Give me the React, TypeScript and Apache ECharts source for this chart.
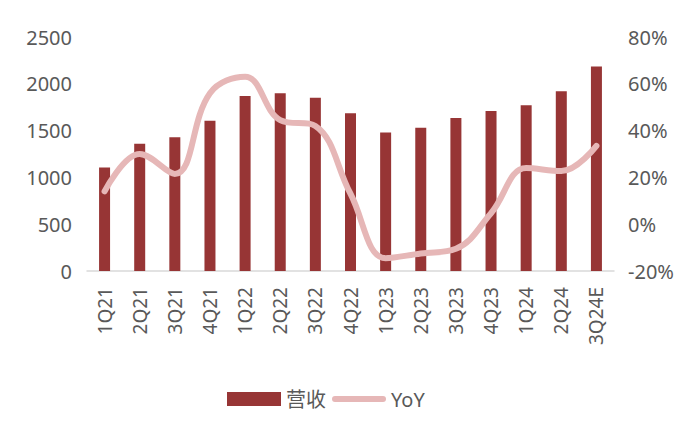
import { useEffect, useRef } from "react";
import * as echarts from "echarts";

const categories = [
  "1Q21", "2Q21", "3Q21", "4Q21",
  "1Q22", "2Q22", "3Q22", "4Q22",
  "1Q23", "2Q23", "3Q23", "4Q23",
  "1Q24", "2Q24", "3Q24E",
];

// 营收
const revenue = [
  1105, 1360, 1430, 1605,
  1870, 1900, 1850, 1685,
  1480, 1530, 1635, 1710,
  1770, 1920, 2185,
];

// YoY (%)
const yoy = [
  14, 30, 21.5, 56,
  63, 44.5, 42, 13,
  -14.5, -12.5, -10.5, 4.7,
  24, 22.7, 33.5,
];

const leftTicks = { min: 0, max: 2500, interval: 500 };
const rightTicks = { min: -20, max: 80, interval: 20 };

const FONT = '"Noto Sans", "Noto Sans CJK SC", sans-serif';
const LABEL_COLOR = "#595959";
const BAR_COLOR = "#973535";
const LINE_COLOR = "#E6B7B7";

// 범례용 둥근 선 아이콘
const LINE_ICON = "path://M3,0 H51 A3,3 0 0 1 51,6 H3 A3,3 0 0 1 3,0 Z";

const App = () => {
  const chartRef = useRef<HTMLDivElement>(null);

  useEffect(() => {
    if (!chartRef.current) {
      return;
    }

    const chart = echarts.init(chartRef.current, null, { renderer: "svg" });

    const option: echarts.EChartsOption = {
      animation: false,
      backgroundColor: "#FFFFFF",
      grid: {
        top: 37,
        left: 87,
        right: 86,
        bottom: 169,
        containLabel: false,
      },
      legend: {
        top: 384,
        left: 222,
        itemWidth: 54,
        itemHeight: 14,
        itemGap: 6,
        textStyle: {
          color: LABEL_COLOR,
          fontFamily: FONT,
          fontSize: 20,
        },
        data: [
          { name: "营收", icon: "rect" },
          { name: "YoY", icon: LINE_ICON },
        ],
      },
      xAxis: {
        type: "category",
        data: categories,
        axisLine: { lineStyle: { color: "#D9D9D9", width: 1.5 } },
        axisTick: { show: false },
        axisLabel: {
          rotate: 90,
          margin: 16,
          color: LABEL_COLOR,
          fontFamily: FONT,
          fontSize: 19,
        },
      },
      yAxis: [
        {
          type: "value",
          ...leftTicks,
          axisLine: { show: false },
          axisTick: { show: false },
          splitLine: { show: false },
          axisLabel: {
            margin: 15,
            color: LABEL_COLOR,
            fontFamily: FONT,
            fontSize: 20,
            formatter: (v: number) => String(v),
          },
        },
        {
          type: "value",
          ...rightTicks,
          position: "right",
          axisLine: { show: false },
          axisTick: { show: false },
          splitLine: { show: false },
          axisLabel: {
            margin: 14,
            color: LABEL_COLOR,
            fontFamily: FONT,
            fontSize: 20,
            formatter: "{value}%",
          },
        },
      ],
      series: [
        {
          name: "营收",
          type: "bar",
          data: revenue,
          barWidth: 11,
          itemStyle: { color: BAR_COLOR },
        },
        {
          name: "YoY",
          type: "line",
          yAxisIndex: 1,
          data: yoy,
          smooth: 0.4,
          symbol: "none",
          showSymbol: false,
          itemStyle: { color: LINE_COLOR },
          lineStyle: { color: LINE_COLOR, width: 6, cap: "round" },
        },
      ],
    };

    chart.setOption(option);

    return () => {
      chart.dispose();
    };
  }, []);

  return <div ref={chartRef} style={{ width: 700, height: 440, margin: -8 }} />;
};

export default App;
